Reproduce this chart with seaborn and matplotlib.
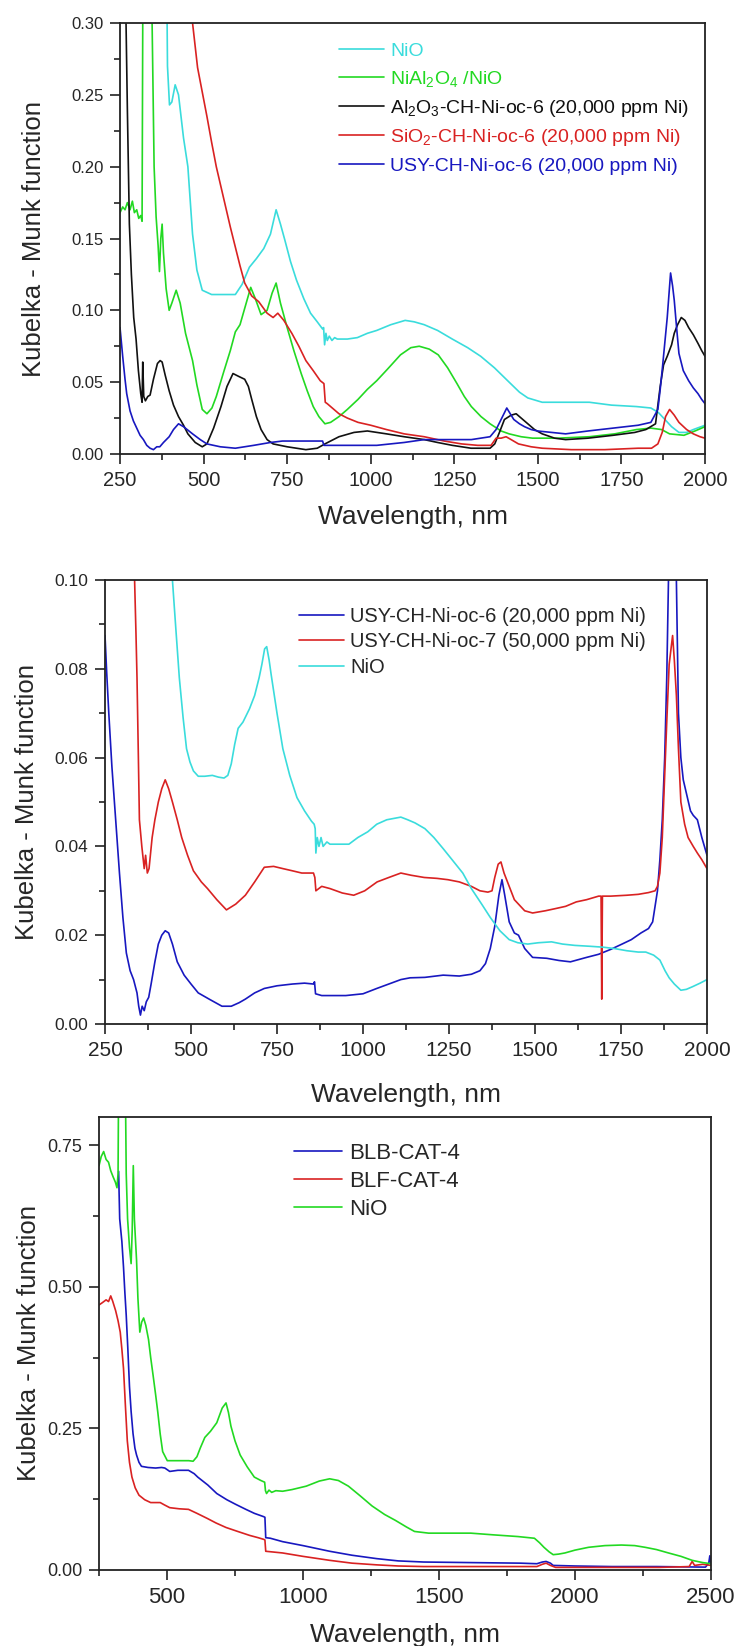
import matplotlib
matplotlib.use('Agg')
import matplotlib.pyplot as plt
from matplotlib.ticker import MultipleLocator, FormatStrFormatter
import seaborn as sns

sns.set_style('ticks')
plt.rcParams['font.family'] = ['Liberation Sans', 'DejaVu Sans']
plt.rcParams['mathtext.fontset'] = 'custom'
plt.rcParams['mathtext.rm'] = 'Liberation Sans'
plt.rcParams['mathtext.default'] = 'rm'

CYAN = '#3ADCDC'
GREEN = '#22D922'
RED = '#D92222'
BLUE = '#1818C0'
BLACK = '#111111'

# ---------------- panel 1 ----------------
p1_nio_wl = [380, 392, 398, 405, 415, 425, 440, 453, 467, 480, 496, 524, 560, 595, 615, 637, 658, 680, 700, 717,
             730, 743, 760, 778, 800, 820, 840, 856, 859, 862, 866, 870, 876, 884, 892, 900, 930, 960, 990, 1018,
             1060, 1103, 1130, 1160, 1200, 1244, 1290, 1329, 1370, 1414, 1445, 1470, 1513, 1580, 1654, 1720, 1795,
             1838, 1860, 1880, 1900, 1922, 1945, 1965, 2000]
p1_nio_km = [0.60, 0.27, 0.243, 0.245, 0.257, 0.25, 0.22, 0.20, 0.153, 0.128, 0.114, 0.111, 0.111, 0.111, 0.118,
             0.130, 0.136, 0.143, 0.153, 0.170, 0.160, 0.149, 0.134, 0.121, 0.108, 0.098, 0.092, 0.087, 0.088, 0.076,
             0.084, 0.079, 0.082, 0.079, 0.081, 0.080, 0.080, 0.081, 0.084, 0.086, 0.090, 0.093, 0.092, 0.090, 0.086,
             0.080, 0.074, 0.068, 0.060, 0.050, 0.043, 0.039, 0.036, 0.036, 0.036, 0.034, 0.033, 0.032, 0.029, 0.024,
             0.019, 0.015, 0.015, 0.017, 0.020]

p1_nial_wl = [250, 258, 265, 272, 280, 287, 293, 300, 306, 312, 316, 318, 319, 340, 346, 352, 358, 364, 368, 372,
              376, 380, 388, 397, 405, 418, 430, 446, 467, 480, 496, 510, 525, 538, 560, 580, 595, 609, 625, 641,
              655, 672, 690, 705, 717, 730, 750, 770, 792, 810, 828, 845, 863, 880, 905, 930, 962, 990, 1018, 1050,
              1089, 1120, 1145, 1175, 1202, 1230, 1258, 1280, 1301, 1330, 1357, 1390, 1414, 1450, 1484, 1560, 1654,
              1730, 1795, 1838, 1870, 1894, 1937, 1970, 2000]
p1_nial_km = [0.168, 0.172, 0.170, 0.175, 0.170, 0.176, 0.168, 0.170, 0.164, 0.166, 0.162, 0.30, 0.60, 0.60, 0.30,
              0.20, 0.165, 0.145, 0.127, 0.150, 0.160, 0.140, 0.115, 0.100, 0.105, 0.114, 0.105, 0.084, 0.065, 0.048,
              0.031, 0.028, 0.032, 0.040, 0.057, 0.072, 0.085, 0.090, 0.103, 0.116, 0.108, 0.097, 0.100, 0.112, 0.119,
              0.105, 0.088, 0.072, 0.056, 0.044, 0.033, 0.026, 0.021, 0.022, 0.026, 0.031, 0.038, 0.045, 0.051, 0.059,
              0.069, 0.074, 0.075, 0.073, 0.069, 0.060, 0.049, 0.040, 0.033, 0.026, 0.021, 0.016, 0.014, 0.012, 0.011,
              0.011, 0.012, 0.014, 0.017, 0.018, 0.017, 0.014, 0.013, 0.016, 0.019]

p1_al_wl = [250, 262, 268, 272, 278, 284, 291, 298, 305, 312, 316, 318, 321, 326, 333, 340, 350, 362, 370, 376,
            385, 397, 410, 425, 440, 453, 475, 496, 510, 530, 552, 570, 588, 605, 623, 634, 644, 658, 672, 690,
            708, 750, 806, 840, 863, 905, 950, 990, 1047, 1100, 1160, 1200, 1244, 1300, 1357, 1371, 1385, 1400,
            1420, 1435, 1450, 1470, 1490, 1513, 1550, 1583, 1650, 1725, 1790, 1823, 1852, 1866, 1876, 1887, 1900,
            1908, 1918, 1929, 1940, 1951, 1965, 1979, 1990, 2000]
p1_al_km = [0.60, 0.60, 0.30, 0.24, 0.16, 0.125, 0.095, 0.080, 0.058, 0.042, 0.036, 0.064, 0.040, 0.037, 0.040,
            0.041, 0.052, 0.063, 0.065, 0.064, 0.055, 0.044, 0.034, 0.026, 0.020, 0.014, 0.008, 0.005, 0.007, 0.018,
            0.033, 0.047, 0.056, 0.054, 0.052, 0.047, 0.038, 0.026, 0.017, 0.010, 0.007, 0.005, 0.003, 0.004, 0.007,
            0.012, 0.015, 0.016, 0.014, 0.012, 0.010, 0.008, 0.006, 0.004, 0.004, 0.007, 0.015, 0.024, 0.027, 0.028,
            0.025, 0.021, 0.017, 0.014, 0.011, 0.010, 0.011, 0.013, 0.015, 0.017, 0.021, 0.047, 0.062, 0.068, 0.076,
            0.084, 0.090, 0.095, 0.093, 0.088, 0.083, 0.077, 0.072, 0.068]

p1_si_wl = [455, 467, 482, 496, 510, 524, 538, 552, 566, 580, 595, 609, 623, 644, 665, 690, 708, 722, 740, 764,
            785, 806, 828, 849, 860, 864, 870, 885, 905, 930, 962, 1000, 1047, 1100, 1160, 1220, 1272, 1320, 1360,
            1375, 1390, 1405, 1420, 1442, 1480, 1513, 1600, 1700, 1800, 1840, 1859, 1872, 1882, 1894, 1908, 1922,
            1945, 1965, 1985, 2000]
p1_si_km = [0.60, 0.30, 0.269, 0.252, 0.235, 0.217, 0.200, 0.186, 0.172, 0.158, 0.144, 0.131, 0.119, 0.110, 0.106,
            0.098, 0.095, 0.098, 0.093, 0.084, 0.075, 0.065, 0.058, 0.051, 0.049, 0.036, 0.035, 0.032, 0.028, 0.025,
            0.022, 0.020, 0.017, 0.014, 0.012, 0.009, 0.007, 0.006, 0.006, 0.011, 0.011, 0.012, 0.010, 0.007, 0.005,
            0.004, 0.003, 0.003, 0.004, 0.004, 0.007, 0.015, 0.026, 0.031, 0.027, 0.022, 0.017, 0.014, 0.012, 0.011]

p1_usy_wl = [250, 258, 265, 270, 280, 290, 298, 310, 320, 330, 340, 350, 360, 369, 380, 397, 410, 425, 440, 467,
             490, 510, 550, 595, 650, 700, 736, 800, 856, 860, 900, 1018, 1100, 1160, 1230, 1301, 1357, 1375, 1390,
             1407, 1420, 1428, 1445, 1460, 1480, 1499, 1583, 1650, 1725, 1800, 1838, 1859, 1866, 1873, 1880, 1887,
             1897, 1903, 1908, 1915, 1922, 1935, 1951, 1965, 1979, 1990, 2000]
p1_usy_km = [0.088, 0.068, 0.052, 0.042, 0.030, 0.023, 0.019, 0.013, 0.010, 0.006, 0.004, 0.003, 0.005, 0.005,
             0.008, 0.012, 0.017, 0.021, 0.019, 0.014, 0.010, 0.007, 0.005, 0.004, 0.006, 0.008, 0.009, 0.009, 0.009,
             0.006, 0.006, 0.006, 0.008, 0.010, 0.010, 0.010, 0.012, 0.017, 0.024, 0.032, 0.027, 0.024, 0.021, 0.019,
             0.017, 0.016, 0.014, 0.016, 0.018, 0.020, 0.022, 0.031, 0.045, 0.061, 0.078, 0.095, 0.126, 0.117, 0.107,
             0.088, 0.070, 0.058, 0.051, 0.046, 0.042, 0.038, 0.035]

# ---------------- panel 2 ----------------
p2_usy6_wl = [250, 255, 261, 270, 281, 292, 302, 312, 323, 333, 343, 348, 353, 358, 364, 370, 377, 384, 395, 405,
              415, 425, 435, 446, 460, 480, 500, 521, 555, 590, 617, 640, 658, 685, 713, 750, 795, 830, 856, 859,
              862, 880, 904, 950, 1000, 1040, 1082, 1110, 1137, 1180, 1233, 1280, 1315, 1340, 1356, 1370, 1383, 1395,
              1404, 1412, 1425, 1440, 1452, 1470, 1493, 1534, 1570, 1603, 1650, 1685, 1720, 1753, 1780, 1808, 1830,
              1842, 1856, 1863, 1870, 1877, 1883, 1888, 1892, 1905, 1911, 1914, 1917, 1924, 1931, 1940, 1952, 1960,
              1972, 1985, 2000]
p2_usy6_km = [0.0875, 0.079, 0.070, 0.058, 0.046, 0.034, 0.024, 0.016, 0.012, 0.010, 0.007, 0.004, 0.002, 0.004,
              0.003, 0.005, 0.006, 0.009, 0.014, 0.018, 0.020, 0.021, 0.0205, 0.018, 0.014, 0.011, 0.009, 0.007, 0.0055,
              0.004, 0.004, 0.0048, 0.0056, 0.007, 0.008, 0.0086, 0.009, 0.0092, 0.009, 0.0095, 0.0068, 0.0064, 0.0064,
              0.0064, 0.0068, 0.008, 0.0092, 0.010, 0.0104, 0.0105, 0.011, 0.0108, 0.0112, 0.012, 0.0136, 0.017, 0.022,
              0.029, 0.0325, 0.029, 0.023, 0.0205, 0.020, 0.017, 0.015, 0.0148, 0.0143, 0.014, 0.015, 0.0157, 0.0168,
              0.018, 0.019, 0.0205, 0.0215, 0.023, 0.030, 0.037, 0.046, 0.060, 0.078, 0.100, 0.16, 0.16, 0.100, 0.085,
              0.070, 0.060, 0.055, 0.052, 0.048, 0.047, 0.046, 0.042, 0.038]

p2_usy7_wl = [333, 336, 340, 343, 347, 350, 357, 364, 368, 373, 378, 387, 395, 405, 415, 425, 435, 446, 460, 473,
              490, 507, 530, 548, 575, 603, 630, 658, 685, 713, 740, 767, 795, 822, 856, 860, 863, 880, 904, 940,
              973, 1005, 1041, 1075, 1110, 1140, 1178, 1215, 1247, 1280, 1315, 1340, 1363, 1375, 1383, 1393, 1401,
              1410, 1425, 1440, 1452, 1470, 1493, 1530, 1560, 1589, 1620, 1650, 1685, 1692, 1694, 1696, 1720, 1767,
              1800, 1830, 1849, 1856, 1863, 1870, 1876, 1883, 1890, 1900, 1905, 1911, 1917, 1924, 1935, 1945, 1960,
              1972, 1985, 2000]
p2_usy7_km = [0.16, 0.10, 0.088, 0.078, 0.060, 0.046, 0.040, 0.035, 0.038, 0.034, 0.035, 0.042, 0.046, 0.050, 0.053,
              0.055, 0.053, 0.050, 0.046, 0.042, 0.038, 0.0345, 0.032, 0.0305, 0.028, 0.0257, 0.027, 0.029, 0.032,
              0.0353, 0.0355, 0.035, 0.0345, 0.034, 0.034, 0.033, 0.030, 0.031, 0.0305, 0.0295, 0.029, 0.030, 0.032,
              0.033, 0.034, 0.0335, 0.033, 0.0328, 0.0325, 0.032, 0.031, 0.030, 0.0297, 0.030, 0.033, 0.036, 0.0365,
              0.034, 0.031, 0.028, 0.027, 0.0255, 0.025, 0.0255, 0.026, 0.0265, 0.0275, 0.028, 0.0288, 0.0288, 0.0056,
              0.0288, 0.0288, 0.029, 0.0292, 0.0296, 0.030, 0.031, 0.034, 0.042, 0.054, 0.068, 0.081, 0.0875, 0.082,
              0.074, 0.062, 0.050, 0.045, 0.042, 0.040, 0.0385, 0.037, 0.035]

p2_nio_wl = [440, 446, 455, 466, 477, 487, 497, 507, 521, 540, 562, 580, 596, 607, 617, 627, 637, 651, 670, 685,
             698, 706, 714, 720, 727, 733, 750, 767, 787, 808, 830, 850, 858, 861, 863, 867, 872, 878, 884, 895, 904,
             930, 959, 985, 1014, 1040, 1069, 1110, 1130, 1151, 1180, 1206, 1233, 1260, 1290, 1315, 1345, 1370, 1398,
             1425, 1450, 1479, 1510, 1548, 1580, 1616, 1660, 1698, 1730, 1767, 1800, 1822, 1845, 1863, 1878, 1890,
             1905, 1924, 1940, 1958, 1980, 2000]
p2_nio_km = [0.16, 0.10, 0.090, 0.078, 0.069, 0.062, 0.059, 0.057, 0.0558, 0.0558, 0.056, 0.0556, 0.0554, 0.056,
             0.0586, 0.063, 0.0666, 0.068, 0.071, 0.074, 0.078, 0.081, 0.0845, 0.085, 0.082, 0.0787, 0.070, 0.062,
             0.056, 0.051, 0.048, 0.0457, 0.045, 0.044, 0.0385, 0.042, 0.040, 0.042, 0.040, 0.041, 0.0405, 0.0405,
             0.0405, 0.042, 0.0433, 0.045, 0.046, 0.0466, 0.046, 0.0453, 0.044, 0.042, 0.0395, 0.0369, 0.034, 0.0305,
             0.027, 0.024, 0.021, 0.019, 0.0183, 0.018, 0.0183, 0.0185, 0.018, 0.0177, 0.0175, 0.0173, 0.017, 0.0165,
             0.0162, 0.0162, 0.0155, 0.0144, 0.012, 0.0104, 0.009, 0.0076, 0.0078, 0.0084, 0.0092, 0.010]

# ---------------- panel 3 ----------------
p3_blb_wl = [322, 326, 330, 334, 340, 345, 350, 356, 362, 368, 375, 382, 388, 397, 406, 430, 458, 480, 492, 510,
             540, 579, 600, 613, 650, 683, 720, 752, 790, 821, 856, 860, 863, 880, 925, 1000, 1098, 1180, 1271, 1350,
             1444, 1617, 1800, 1860, 1880, 1894, 1910, 1920, 2000, 2136, 2300, 2480, 2492, 2496, 2500]
p3_blb_km = [0.704, 0.62, 0.60, 0.58, 0.535, 0.49, 0.45, 0.39, 0.324, 0.28, 0.241, 0.215, 0.203, 0.19, 0.183, 0.181,
             0.180, 0.181, 0.18, 0.174, 0.176, 0.176, 0.170, 0.164, 0.150, 0.135, 0.124, 0.116, 0.107, 0.100, 0.094,
             0.093, 0.057, 0.056, 0.050, 0.043, 0.033, 0.026, 0.020, 0.016, 0.014, 0.013, 0.012, 0.011, 0.014, 0.015,
             0.012, 0.008, 0.007, 0.006, 0.006, 0.005, 0.012, 0.025, 0.010]

p3_blf_wl = [250, 262, 276, 285, 293, 300, 311, 320, 328, 334, 340, 347, 354, 362, 371, 383, 397, 418, 440, 460,
             475, 490, 510, 545, 579, 610, 648, 680, 717, 760, 804, 835, 856, 860, 863, 925, 1000, 1098, 1180, 1271,
             1350, 1444, 1600, 1860, 1880, 1894, 1910, 1929, 2100, 2310, 2420, 2431, 2440, 2470, 2500]
p3_blf_km = [0.468, 0.472, 0.477, 0.474, 0.484, 0.475, 0.458, 0.44, 0.42, 0.39, 0.356, 0.29, 0.228, 0.19, 0.164,
             0.145, 0.132, 0.124, 0.119, 0.119, 0.119, 0.115, 0.110, 0.108, 0.107, 0.100, 0.091, 0.083, 0.075, 0.068,
             0.061, 0.057, 0.054, 0.053, 0.033, 0.030, 0.024, 0.017, 0.012, 0.009, 0.007, 0.006, 0.006, 0.006, 0.010,
             0.012, 0.008, 0.0045, 0.0045, 0.0045, 0.006, 0.015, 0.008, 0.010, 0.008]

p3_nio_wl = [250, 258, 267, 276, 285, 293, 302, 310, 316, 320, 323, 345, 350, 355, 362, 368, 372, 376, 380, 388,
             393, 400, 407, 414, 422, 432, 440, 449, 458, 466, 475, 484, 501, 544, 580, 596, 610, 622, 639, 660, 683,
             703, 717, 726, 735, 750, 769, 795, 821, 845, 859, 862, 866, 875, 885, 900, 925, 960, 1012, 1060, 1098,
             1130, 1167, 1210, 1254, 1300, 1340, 1380, 1410, 1462, 1540, 1617, 1700, 1790, 1851, 1870, 1886, 1905,
             1920, 1940, 1963, 2000, 2050, 2110, 2171, 2220, 2258, 2300, 2344, 2390, 2431, 2470, 2500]
p3_nio_km = [0.714, 0.730, 0.739, 0.725, 0.72, 0.705, 0.694, 0.685, 0.675, 0.70, 0.95, 0.95, 0.70, 0.62, 0.57, 0.541,
             0.60, 0.714, 0.62, 0.547, 0.48, 0.42, 0.438, 0.445, 0.432, 0.407, 0.375, 0.343, 0.31, 0.279, 0.24, 0.209,
             0.193, 0.193, 0.193, 0.192, 0.200, 0.215, 0.234, 0.245, 0.26, 0.286, 0.295, 0.278, 0.254, 0.228, 0.203,
             0.182, 0.164, 0.158, 0.155, 0.14, 0.135, 0.141, 0.137, 0.140, 0.139, 0.142, 0.148, 0.157, 0.161, 0.158,
             0.148, 0.131, 0.113, 0.098, 0.0875, 0.076, 0.068, 0.065, 0.065, 0.065, 0.062, 0.059, 0.056, 0.048, 0.040,
             0.032, 0.027, 0.028, 0.030, 0.035, 0.040, 0.043, 0.044, 0.043, 0.040, 0.036, 0.030, 0.024, 0.017, 0.013,
             0.011]

ylabel = 'Kubelka - Munk function'
xlabel = 'Wavelength, nm'

fig = plt.figure(figsize=(7.39, 16.46), dpi=100)
ax1 = fig.add_axes([0.1624, 0.7242, 0.7916, 0.2618])
ax2 = fig.add_axes([0.1421, 0.3779, 0.8146, 0.2697])
ax3 = fig.add_axes([0.1340, 0.0462, 0.8280, 0.2752])


def draw(ax, wl, km, color, label):
    sns.lineplot(x=wl, y=km, ax=ax, color=color, lw=1.2, sort=False, estimator=None, label=label)


draw(ax1, p1_nio_wl, p1_nio_km, CYAN, 'NiO')
draw(ax1, p1_nial_wl, p1_nial_km, GREEN, 'NiAl$_2$O$_4$ /NiO')
draw(ax1, p1_al_wl, p1_al_km, BLACK, 'Al$_2$O$_3$-CH-Ni-oc-6 (20,000 ppm Ni)')
draw(ax1, p1_si_wl, p1_si_km, RED, 'SiO$_2$-CH-Ni-oc-6 (20,000 ppm Ni)')
draw(ax1, p1_usy_wl, p1_usy_km, BLUE, 'USY-CH-Ni-oc-6 (20,000 ppm Ni)')

draw(ax2, p2_usy6_wl, p2_usy6_km, BLUE, 'USY-CH-Ni-oc-6 (20,000 ppm Ni)')
draw(ax2, p2_usy7_wl, p2_usy7_km, RED, 'USY-CH-Ni-oc-7 (50,000 ppm Ni)')
draw(ax2, p2_nio_wl, p2_nio_km, CYAN, 'NiO')

draw(ax3, p3_blb_wl, p3_blb_km, BLUE, 'BLB-CAT-4')
draw(ax3, p3_blf_wl, p3_blf_km, RED, 'BLF-CAT-4')
draw(ax3, p3_nio_wl, p3_nio_km, GREEN, 'NiO')

ax1.set_xlim(250, 2000)
ax1.set_ylim(0, 0.30)
ax1.xaxis.set_major_locator(MultipleLocator(250))
ax1.xaxis.set_minor_locator(MultipleLocator(125))
ax1.yaxis.set_major_locator(MultipleLocator(0.05))
ax1.yaxis.set_minor_locator(MultipleLocator(0.025))

ax2.set_xlim(250, 2000)
ax2.set_ylim(0, 0.10)
ax2.xaxis.set_major_locator(MultipleLocator(250))
ax2.xaxis.set_minor_locator(MultipleLocator(125))
ax2.yaxis.set_major_locator(MultipleLocator(0.02))
ax2.yaxis.set_minor_locator(MultipleLocator(0.01))

ax3.set_xlim(250, 2500)
ax3.set_ylim(0, 0.80)
ax3.xaxis.set_major_locator(MultipleLocator(500))
ax3.xaxis.set_minor_locator(MultipleLocator(250))
ax3.yaxis.set_major_locator(MultipleLocator(0.25))
ax3.yaxis.set_minor_locator(MultipleLocator(0.125))

# x tick size, y tick size, xlabel pad, ylabel pad
settings = [(ax1, 14.5, 12, 11, 18), (ax2, 15, 12.5, 17, 11), (ax3, 16, 13, 11, 4.5)]
for ax, xs, ys, xpad, ypad in settings:
    ax.yaxis.set_major_formatter(FormatStrFormatter('%.2f'))
    ax.tick_params(which='major', direction='out', length=7, width=1.2, pad=5, color='#222222')
    ax.tick_params(which='minor', direction='out', length=4.5, width=1.2, color='#222222')
    ax.tick_params(axis='x', labelsize=xs)
    ax.tick_params(axis='y', labelsize=ys)
    for s in ax.spines.values():
        s.set_linewidth(1.3)
        s.set_color('#222222')
    ax.set_xlabel(xlabel, fontsize=19, labelpad=xpad)
    ax.set_ylabel(ylabel, fontsize=18.5, labelpad=ypad)

ax1.legend(loc='upper left', bbox_to_anchor=(0.375, 0.955), frameon=False, fontsize=14, handlelength=2.3,
           handletextpad=0.3, labelspacing=0.45, borderpad=0, borderaxespad=0, labelcolor='linecolor')
ax2.legend(loc='upper left', bbox_to_anchor=(0.322, 0.94), frameon=False, fontsize=14.5, handlelength=2.25,
           handletextpad=0.3, labelspacing=0.32, borderpad=0, borderaxespad=0)
ax3.legend(loc='upper left', bbox_to_anchor=(0.318, 0.943), frameon=False, fontsize=16, handlelength=2.2,
           handletextpad=0.3, labelspacing=0.32, borderpad=0, borderaxespad=0)

fig.savefig('out.png', dpi=100)
